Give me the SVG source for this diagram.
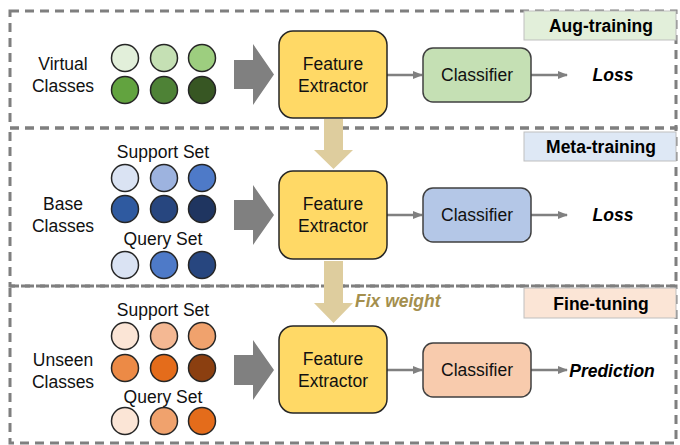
<svg xmlns="http://www.w3.org/2000/svg" width="680" height="445" viewBox="0 0 680 445">
<style>
.sec{fill:none;stroke:#7f7f7f;stroke-width:3;stroke-dasharray:9 6}
.lbl{stroke:#bfbfbf;stroke-width:1}
.t{font-family:"Liberation Sans",Arial,sans-serif;font-size:17.5px;fill:#111;text-anchor:middle}
.b{font-weight:bold;fill:#000}
.bi{font-weight:bold;font-style:italic;fill:#000}
.fe{fill:#ffd966;stroke:#262626;stroke-width:1.5}
.cl{stroke:#404040;stroke-width:1.5}
.c{stroke:#262626;stroke-width:1.5}
.big{fill:#808080}
.tan{fill:#decd9e}
.con{stroke:#808080;stroke-width:2.5;fill:none}
</style>
<defs>
<marker id="ah" markerWidth="10" markerHeight="10" refX="9" refY="5" orient="auto" markerUnits="userSpaceOnUse">
<path d="M0,1 L10,5 L0,9 Z" fill="#808080"/>
</marker>
</defs>
<rect width="680" height="445" fill="#fff"/>
<g id="sections">
<rect class="sec" x="10" y="11" width="666" height="117"/>
<rect class="sec" x="10" y="128" width="666" height="158"/>
<rect class="sec" x="10" y="286" width="666" height="157"/>
</g>
<g id="label-aug">
<rect class="lbl" x="524" y="11" width="152" height="29" fill="#e2efda"/>
<text class="t b" x="601" y="32">Aug-training</text>
</g>
<g id="label-meta">
<rect class="lbl" x="524" y="132" width="152" height="29" fill="#dee8f5"/>
<text class="t b" x="601" y="153">Meta-training</text>
</g>
<g id="label-fine">
<rect class="lbl" x="524" y="288" width="152" height="30" fill="#fbe5d6"/>
<text class="t b" x="601" y="310">Fine-tuning</text>
</g>
<g id="virtual-classes">
<text class="t" x="63" y="70">Virtual</text>
<text class="t" x="63" y="92">Classes</text>
<circle class="c" cx="125" cy="58" r="13.5" fill="#e2efda"/>
<circle class="c" cx="164" cy="58" r="13.5" fill="#c5e0b4"/>
<circle class="c" cx="202" cy="58" r="13.5" fill="#9dce7f"/>
<circle class="c" cx="125" cy="90" r="13.5" fill="#62a33f"/>
<circle class="c" cx="164" cy="90" r="13.5" fill="#4e8236"/>
<circle class="c" cx="202" cy="90" r="13.5" fill="#375623"/>
</g>
<g id="base-classes">
<text class="t" x="63" y="210">Base</text>
<text class="t" x="63" y="232">Classes</text>
<text class="t" x="163" y="158">Support Set</text>
<circle class="c" cx="125" cy="178" r="13.5" fill="#dae3f3"/>
<circle class="c" cx="164" cy="178" r="13.5" fill="#9db3df"/>
<circle class="c" cx="202" cy="178" r="13.5" fill="#4e7ac8"/>
<circle class="c" cx="125" cy="209" r="13.5" fill="#2f5aa0"/>
<circle class="c" cx="164" cy="209" r="13.5" fill="#27467f"/>
<circle class="c" cx="202" cy="209" r="13.5" fill="#1f3560"/>
<text class="t" x="163" y="245">Query Set</text>
<circle class="c" cx="125" cy="265" r="13.5" fill="#dae3f3"/>
<circle class="c" cx="164" cy="265" r="13.5" fill="#4e7ac8"/>
<circle class="c" cx="202" cy="265" r="13.5" fill="#27467f"/>
</g>
<g id="unseen-classes">
<text class="t" x="63" y="366">Unseen</text>
<text class="t" x="63" y="388">Classes</text>
<text class="t" x="163" y="316">Support Set</text>
<circle class="c" cx="125" cy="336" r="13.5" fill="#fbe5d6"/>
<circle class="c" cx="164" cy="336" r="13.5" fill="#f4b893"/>
<circle class="c" cx="202" cy="336" r="13.5" fill="#f0a26d"/>
<circle class="c" cx="125" cy="368" r="13.5" fill="#ec8a46"/>
<circle class="c" cx="164" cy="368" r="13.5" fill="#e46c1b"/>
<circle class="c" cx="202" cy="368" r="13.5" fill="#8b3f10"/>
<text class="t" x="163" y="403">Query Set</text>
<circle class="c" cx="125" cy="421" r="13.5" fill="#fbe5d6"/>
<circle class="c" cx="164" cy="421" r="13.5" fill="#f0a26d"/>
<circle class="c" cx="202" cy="421" r="13.5" fill="#e46c1b"/>
</g>
<g id="connectors">
<path class="big" d="M234,60 H253 V44 L274,74.5 L253,105 V89 H234 Z"/>
<path class="big" d="M234,200 H253 V185 L274,215 L253,245 V230 H234 Z"/>
<path class="big" d="M234,355 H253 V340 L274,370 L253,400 V385 H234 Z"/>
<path class="tan" d="M324,119 H343 V150 H353 L333.5,169 L314,150 H324 Z"/>
<path class="tan" d="M324,261 H343 V303 H353 L333.5,323 L314,303 H324 Z"/>
<line class="con" x1="387" y1="75" x2="422" y2="75" marker-end="url(#ah)"/>
<line class="con" x1="531" y1="75" x2="567" y2="75" marker-end="url(#ah)"/>
<line class="con" x1="387" y1="215" x2="422" y2="215" marker-end="url(#ah)"/>
<line class="con" x1="531" y1="215" x2="567" y2="215" marker-end="url(#ah)"/>
<line class="con" x1="387" y1="370" x2="422" y2="370" marker-end="url(#ah)"/>
<line class="con" x1="531" y1="370" x2="567" y2="370" marker-end="url(#ah)"/>
<text class="t bi" x="355" y="307" style="text-anchor:start;fill:#a48f4e">Fix weight</text>
</g>
<g id="fe-1">
<rect class="fe" x="279" y="31" width="108" height="87" rx="14"/>
<text class="t" x="333" y="70">Feature</text>
<text class="t" x="333" y="92">Extractor</text>
</g>
<g id="fe-2">
<rect class="fe" x="279" y="171" width="108" height="88" rx="14"/>
<text class="t" x="333" y="210">Feature</text>
<text class="t" x="333" y="232">Extractor</text>
</g>
<g id="fe-3">
<rect class="fe" x="279" y="326" width="108" height="87" rx="14"/>
<text class="t" x="333" y="365">Feature</text>
<text class="t" x="333" y="387">Extractor</text>
</g>
<g id="cls-1">
<rect class="cl" x="423" y="48" width="108" height="54" rx="10" fill="#c5e0b4"/>
<text class="t" x="477" y="81">Classifier</text>
</g>
<g id="cls-2">
<rect class="cl" x="423" y="188" width="108" height="54" rx="10" fill="#b4c7e7"/>
<text class="t" x="477" y="221">Classifier</text>
</g>
<g id="cls-3">
<rect class="cl" x="423" y="343" width="108" height="54" rx="10" fill="#f8cbad"/>
<text class="t" x="477" y="376">Classifier</text>
</g>
<g id="out-1"><text class="t bi" x="613" y="81">Loss</text></g>
<g id="out-2"><text class="t bi" x="613" y="221">Loss</text></g>
<g id="out-3"><text class="t bi" x="612" y="377">Prediction</text></g>
</svg>
